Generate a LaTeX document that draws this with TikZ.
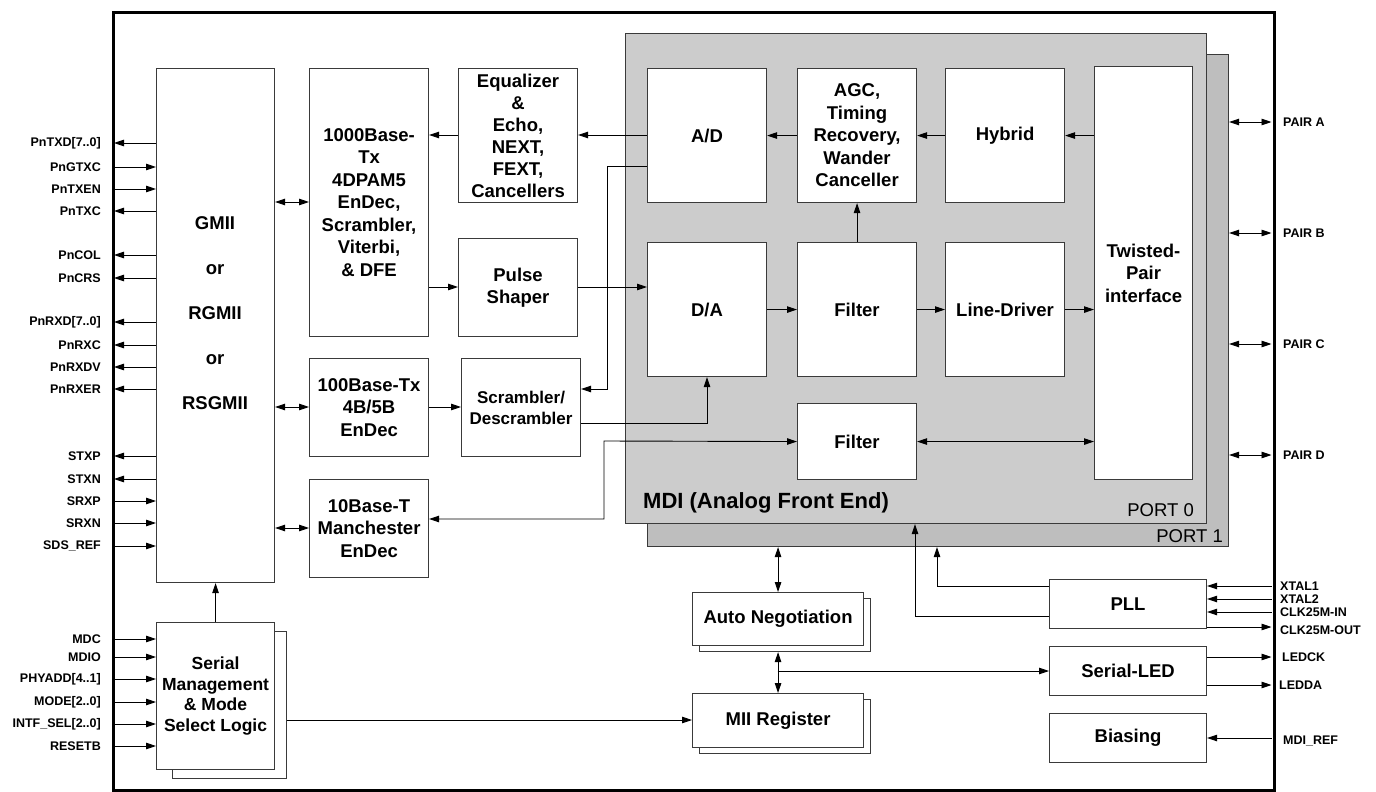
\documentclass[tikz,border=0pt]{standalone}
\usepackage{fontspec}
\setmainfont{Liberation Sans}
\usetikzlibrary{arrows.meta}
\definecolor{porta}{HTML}{CCCCCC}
\definecolor{portb}{HTML}{BEBEBE}
\definecolor{edge}{HTML}{3A3A3A}
\tikzset{
  blk/.style={draw=edge, line width=1.1pt, fill=white, inner sep=0pt, align=center,
    font=\bfseries\fontsize{18.5}{22.5}\selectfont, anchor=north west},
  portbox/.style={draw=edge, line width=1.1pt, inner sep=0pt, anchor=north west},
  arr/.style={-{Triangle[length=10pt,width=6.5pt]}, line width=0.9pt},
  barr/.style={{Triangle[length=10pt,width=6.5pt]}-{Triangle[length=10pt,width=6.5pt]}, line width=0.9pt},
  pinl/.style={font=\bfseries\fontsize{12.5}{13}\selectfont, anchor=east, inner sep=0pt},
  pinr/.style={font=\bfseries\fontsize{12.5}{13}\selectfont, anchor=west, inner sep=0pt},
  portlbl/.style={font=\fontsize{18.5}{20}\selectfont, anchor=base east, inner sep=0pt},
}
\newcommand\blkbox[7][]{\node[blk,#1, minimum width={(#4-#2)*1pt}, minimum height={(#5-#3)*1pt}] (#6) at (#2,#3) {#7};}
\begin{document}
\begin{tikzpicture}[x=1pt,y=-1pt]
\useasboundingbox (0,0) rectangle (1376,792);
% chip border
\node[draw=black, line width=3pt, minimum width=1161pt, minimum height=778pt, anchor=north west, inner sep=0pt] (chip) at (112,11) {};
% ports
\node[portbox, fill=portb, minimum width=581pt, minimum height=492pt] (port1) at (647,54) {};
\node[portbox, fill=porta, minimum width=581pt, minimum height=490pt] (port0) at (625,33) {};
\node[portlbl] (p0lbl) at (1194,516) {PORT 0};
\node[portlbl] (p1lbl) at (1223,542) {PORT 1};
\node[font=\bfseries\fontsize{22}{24}\selectfont, anchor=base west, inner sep=0pt] (mdilbl) at (643,508) {MDI (Analog Front End)};
% left column
\blkbox{156}{68}{274}{582}{gmii}{}
\node[font=\bfseries\fontsize{18.5}{45}\selectfont, align=center, inner sep=0pt] (gmiitext) at (215,313) {GMII\\or\\RGMII\\or\\RSGMII};
\node[draw=edge, line width=1.1pt, fill=white, minimum width=114pt, minimum height=147pt, anchor=north west, inner sep=0pt] (sersh) at (172,631) {};
\blkbox[font=\bfseries\fontsize{17.5}{20.7}\selectfont]{156}{622}{274}{769}{ser}{Serial\\Management\\\& Mode\\Select Logic}
% digital blocks
\blkbox{309}{68}{428}{336}{k1000}{1000Base-\\Tx\\4DPAM5\\EnDec,\\Scrambler,\\Viterbi,\\\& DFE}
\blkbox[font=\bfseries\fontsize{18.5}{22}\selectfont]{458}{68}{577}{202}{eq}{Equalizer\\\&\\Echo,\\NEXT,\\FEXT,\\Cancellers}
\blkbox{458}{238}{577}{336}{pulse}{Pulse\\Shaper}
\blkbox{309}{358}{428}{456}{k100}{100Base-Tx\\4B/5B\\EnDec}
\blkbox[font=\bfseries\fontsize{17}{21}\selectfont]{461}{358}{580}{456}{scr}{Scrambler/\\Descrambler}
\blkbox{309}{479}{428}{577}{k10}{10Base-T\\Manchester\\EnDec}
% analog blocks
\blkbox{647}{68}{766}{202}{ad}{A/D}
\blkbox{797}{68}{916}{202}{agc}{AGC,\\Timing\\Recovery,\\Wander\\Canceller}
\blkbox{945}{68}{1064}{202}{hyb}{Hybrid}
\blkbox{647}{242}{766}{376}{da}{D/A}
\blkbox{797}{242}{916}{376}{filt}{Filter}
\blkbox{945}{242}{1064}{376}{ld}{Line-Driver}
\blkbox{797}{403}{916}{479}{filt2}{Filter}
\blkbox{1094}{66}{1192}{479}{tp}{Twisted-\\Pair\\interface}
% lower blocks
\node[draw=edge, line width=1.1pt, fill=white, minimum width=171pt, minimum height=53pt, anchor=north west, inner sep=0pt] (ansh) at (699,598) {};
\blkbox{692}{592}{863}{645}{an}{Auto Negotiation}
\node[draw=edge, line width=1.1pt, fill=white, minimum width=171pt, minimum height=54pt, anchor=north west, inner sep=0pt] (miish) at (699,699) {};
\blkbox{692}{693}{863}{747}{mii}{MII Register}
\blkbox{1049}{579}{1206}{628}{pll}{PLL}
\blkbox{1049}{646}{1206}{695}{led}{Serial-LED}
\blkbox{1049}{713}{1206}{762}{bias}{Biasing}
% level coordinates
\coordinate (L202) at (0,202);
\coordinate (L407) at (0,407);
\coordinate (L528) at (0,528);
\coordinate (L135) at (0,135);
\coordinate (L287) at (0,287);
\coordinate (L720) at (0,720);
% internal connectors
\draw[barr] (gmii.east |- L202) -- (k1000.west |- L202);
\draw[barr] (gmii.east |- L407) -- (k100.west |- L407);
\draw[barr] (gmii.east |- L528) -- (k10.west |- L528);
\draw[arr] (ser.north) -- (gmii.south);
\draw[arr] (eq.west |- L135) -- (k1000.east |- L135);
\draw[arr] (ad.west |- L135) -- (eq.east |- L135);
\draw[arr] (k1000.east |- L287) -- (pulse.west |- L287);
\draw[arr] (pulse.east |- L287) -- (da.west |- L287);
\coordinate (c1) at (607,166);
\coordinate (c2) at (607,389);
\draw[arr] (ad.west |- c1) -- (c1) -- (c2) -- (scr.east |- c2);
\draw[arr] (k100.east |- L407) -- (scr.west |- L407);
\coordinate (c3) at (707,423);
\draw[arr] (scr.east |- c3) -- (c3) -- (da.south -| c3);
\coordinate (c4) at (604,441);
\coordinate (c5) at (604,519);
\draw[barr] (filt2.west) -- (c4) -- (c5) -- (k10.east |- c5);
\draw[barr] (filt2.east) -- (tp.west |- filt2.east);
\draw[arr] (hyb.west) -- (agc.east);
\draw[arr] (agc.west) -- (ad.east);
\draw[arr] (tp.west |- hyb.east) -- (hyb.east);
\draw[arr] (filt.north) -- (agc.south);
\draw[arr] (da.east) -- (filt.west);
\draw[arr] (filt.east) -- (ld.west);
\draw[arr] (ld.east) -- (tp.west |- ld.east);
\draw[barr] (port1.south -| an.north) -- (an.north);
\draw[barr] (ansh.south -| an.north) -- (mii.north);
\coordinate (c6) at (777.5,671);
\draw[arr] (c6) -- (led.west |- c6);
\draw[arr] (sersh.east |- L720) -- (mii.west |- L720);
\coordinate (c7) at (915,616);
\draw[arr] (pll.west |- c7) -- (c7) -- (port0.south -| c7);
\coordinate (c8) at (937,586);
\draw[arr] (pll.west |- c8) -- (c8) -- (port1.south -| c8);
% left pins of GMII
\foreach \y/\t [count=\i] in {143/PnTXD[7..0], 211/PnTXC, 255/PnCOL, 278/PnCRS, 322/PnRXD[7..0], 345/PnRXC, 367/PnRXDV, 389/PnRXER, 456/STXP, 479/STXN}{
  \coordinate (bo\i) at (114,\y);
  \draw[arr] (gmii.west |- bo\i) -- (bo\i);
  \node[pinl] (to\i) at (101,\y) {\t};
}
\foreach \y/\t [count=\i] in {167/PnGTXC, 189/PnTXEN, 501/SRXP, 523/SRXN, 546/SDS\_REF}{
  \coordinate (bi\i) at (114,\y);
  \draw[arr] (bi\i) -- (gmii.west |- bi\i);
  \node[pinl] (ti\i) at (101,\y) {\t};
}
% management pins
\foreach \y/\t [count=\i] in {639/MDC, 657/MDIO, 679/PHYADD[4..1], 702/MODE[2..0], 724/INTF\_SEL[2..0], 746/RESETB}{
  \coordinate (bm\i) at (114,\y);
  \draw[arr] (bm\i) -- (ser.west |- bm\i);
  \node[pinl] (tm\i) at (101,\y) {\t};
}
% right pins
\foreach \y/\t [count=\i] in {122/PAIR A, 233/PAIR B, 344/PAIR C, 455/PAIR D}{
  \coordinate (bp\i) at (1271.5,\y);
  \draw[barr] (port1.east |- bp\i) -- (bp\i);
  \node[pinr] (tp\i) at (1283,\y) {\t};
}
\foreach \y/\t [count=\i] in {586/XTAL1, 599/XTAL2, 612/CLK25M-IN}{
  \coordinate (bx\i) at (1271.5,\y);
  \draw[arr] (bx\i) -- (pll.east |- bx\i);
  \node[pinr] (tx\i) at (1280,\y) {\t};
}
\coordinate (bco) at (1271.5,627);
\draw[arr] (pll.east |- bco) -- (bco);
\node[pinr] (tco) at (1280,630) {CLK25M-OUT};
\coordinate (bl1) at (1271.5,657);
\draw[arr] (led.east |- bl1) -- (bl1);
\node[pinr] (tl1) at (1282,657) {LEDCK};
\coordinate (bl2) at (1271.5,685);
\draw[arr] (led.east |- bl2) -- (bl2);
\node[pinr] (tl2) at (1279,685) {LEDDA};
\coordinate (bmr) at (1271.5,738);
\draw[arr] (bmr) -- (bias.east |- bmr);
\node[pinr] (tmr) at (1283,741) {MDI\_REF};
\end{tikzpicture}
\end{document}
